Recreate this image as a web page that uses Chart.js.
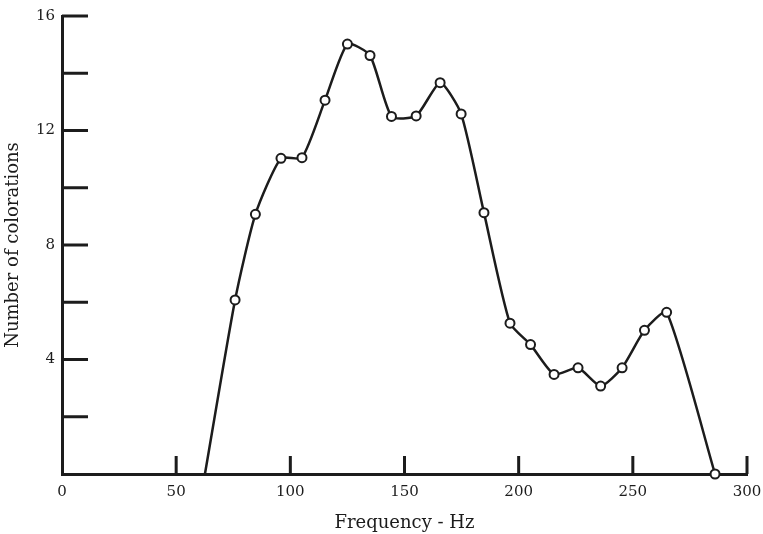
<!DOCTYPE html>
<html>
<head>
<meta charset="utf-8">
<script src="https://cdn.jsdelivr.net/npm/chart.js@4"></script>
<style>
    html, body { margin: 0; padding: 0; background: #ffffff; }
    #wrap { width: 763px; height: 534px; }
</style>
</head>
<body>
<div id="wrap"><canvas id="freqChart" width="763" height="534"></canvas></div>
<script>
// values
var frequency = [62.6, 75.8, 84.7, 95.9, 105.1, 115.2, 125, 134.9, 144.3, 155.1, 165.6, 174.8, 184.8, 196.2, 205.2, 215.5, 226, 235.9, 245.3, 255.1, 264.8, 286];
var colorations = [0, 6.08, 9.07, 11.03, 11.05, 13.06, 15.02, 14.62, 12.49, 12.51, 13.67, 12.58, 9.13, 5.27, 4.52, 3.48, 3.71, 3.07, 3.71, 5.02, 5.65, 0];
var xTicks = [0, 50, 100, 150, 200, 250, 300];
var yLabels = [4, 8, 12, 16];

document.addEventListener('DOMContentLoaded', function () {
    var ink = '#1c1c1c';
    var serif = "'DejaVu Serif', 'Liberation Serif', serif";

    var points = frequency.map(function (f, i) {
        return { x: f, y: colorations[i] };
    });
    var radii = frequency.map(function (f, i) { return i === 0 ? 0 : 4.5; });

    // short tick marks pointing into the plot
    var innerTicks = {
        id: 'innerTicks',
        afterDatasetsDraw: function (chart) {
            var ctx = chart.ctx;
            var area = chart.chartArea;
            var xs = chart.scales.x;
            var ys = chart.scales.y;
            ctx.save();
            ctx.strokeStyle = ink;
            ctx.lineWidth = 3;
            ctx.lineCap = 'butt';
            ctx.beginPath();
            xs.ticks.forEach(function (t) {
                if (t.value <= 0) return;
                var px = xs.getPixelForValue(t.value);
                ctx.moveTo(px, area.bottom);
                ctx.lineTo(px, area.bottom - 18);
            });
            ys.ticks.forEach(function (t) {
                if (t.value <= 0) return;
                var py = ys.getPixelForValue(t.value);
                ctx.moveTo(area.left, py);
                ctx.lineTo(area.left + 26, py);
            });
            ctx.stroke();
            ctx.restore();
        }
    };

    var ctxFreq = document.getElementById('freqChart').getContext('2d');
    var freqChart = new Chart(ctxFreq, {
        type: 'line',
        data: {
            datasets: [{
                data: points,
                borderColor: ink,
                borderWidth: 2.5,
                tension: 0.2,
                fill: false,
                pointRadius: radii,
                pointBackgroundColor: '#ffffff',
                pointBorderColor: ink,
                pointBorderWidth: 2
            }]
        },
        options: {
            responsive: false,
            animation: false,
            clip: false,
            layout: {
                padding: { top: 16, right: 16, bottom: 0, left: 0 }
            },
            plugins: {
                legend: { display: false },
                tooltip: { enabled: false }
            },
            scales: {
                x: {
                    type: 'linear',
                    min: 0,
                    max: 300,
                    afterBuildTicks: function (scale) {
                        scale.ticks = xTicks.map(function (v) { return { value: v }; });
                    },
                    grid: { display: false, drawTicks: false },
                    border: { display: true, color: ink, width: 3 },
                    ticks: {
                        color: ink,
                        padding: 9,
                        maxRotation: 0,
                        font: { family: serif, size: 15 }
                    },
                    title: {
                        display: true,
                        text: 'Frequency - Hz',
                        color: ink,
                        padding: { top: 5, bottom: 0 },
                        font: { family: serif, size: 18 }
                    },
                    afterFit: function (scale) {
                        scale.height = 60;
                        scale.paddingLeft = 0;
                        scale.paddingRight = 0;
                    }
                },
                y: {
                    type: 'linear',
                    min: 0,
                    max: 16,
                    ticks: {
                        stepSize: 2,
                        color: ink,
                        padding: 7,
                        font: { family: serif, size: 15 },
                        callback: function (v) {
                            return yLabels.indexOf(v) >= 0 ? String(v) : '';
                        }
                    },
                    grid: { display: false, drawTicks: false },
                    border: { display: true, color: ink, width: 3 },
                    title: {
                        display: true,
                        text: 'Number of colorations',
                        color: ink,
                        padding: { top: 3, bottom: 4 },
                        font: { family: serif, size: 18 }
                    },
                    afterFit: function (scale) {
                        scale.width = 62;
                        scale.paddingTop = 0;
                        scale.paddingBottom = 0;
                    }
                }
            }
        },
        plugins: [innerTicks]
    });
});
</script>
</body>
</html>
